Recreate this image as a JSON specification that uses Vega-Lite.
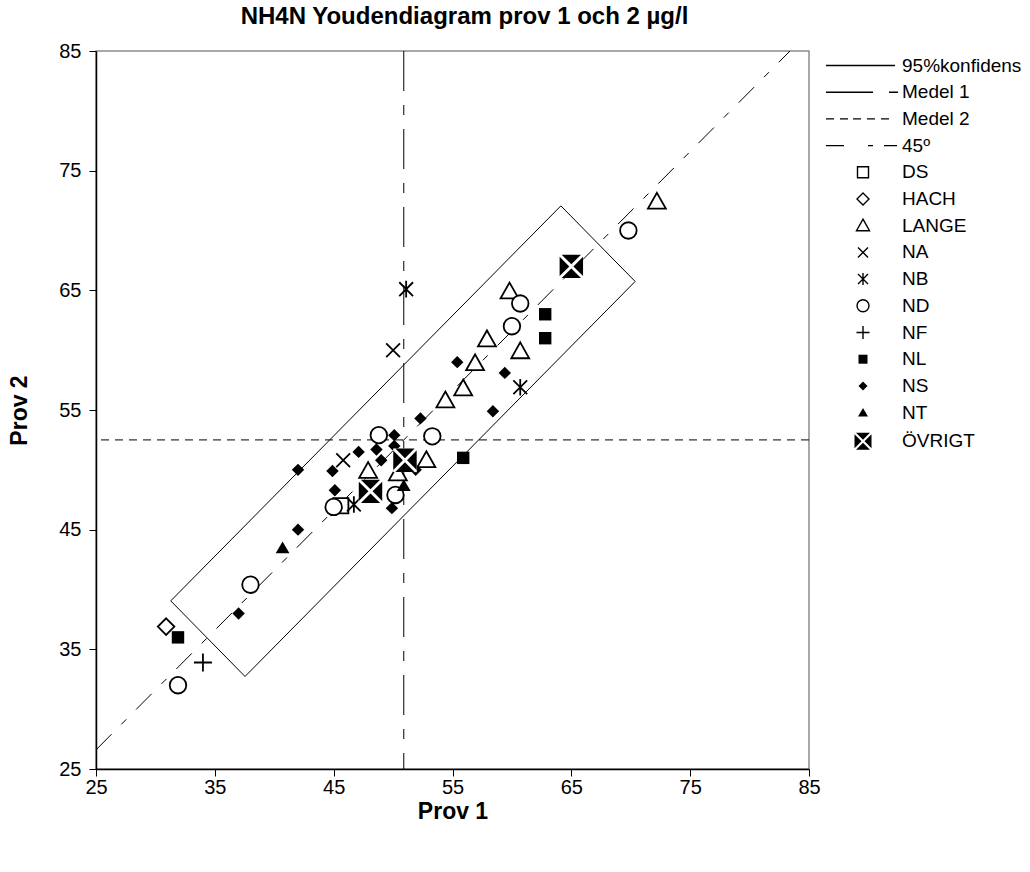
{
  "$schema": "https://vega.github.io/schema/vega-lite/v6.json",
  "width": 713,
  "height": 718,
  "autosize": "none",
  "padding": {"left": 96, "top": 51, "right": 221, "bottom": 103},
  "background": "white",
  "title": {"text": "NH4N Youdendiagram prov 1 och 2 µg/l", "font": "Liberation Sans", "fontSize": 24, "fontWeight": "bold", "color": "black", "anchor": "middle", "offset": 12, "dx": 12},
  "config": {
    "view": {"stroke": "#8c8c8c", "strokeWidth": 1.5},
    "axis": {"grid": false, "labelFlush": false, "domainColor": "black", "domainWidth": 1.5, "tickColor": "black", "tickSize": 7, "labelFont": "Liberation Sans", "labelFontSize": 20, "labelColor": "black", "titleFont": "Liberation Sans", "titleFontSize": 23, "titleFontWeight": "bold", "titleColor": "black"},
    "legend": {"orient": "none", "legendX": 757.5, "legendY": 5, "title": null, "padding": 0, "symbolSize": 4, "symbolStrokeWidth": 1.4, "labelFont": "Liberation Sans", "labelFontSize": 19, "labelColor": "black", "labelOffset": 29.5, "rowPadding": 6.7, "symbolOffset": 0, "labelLimit": 300}
  },
  "datasets": {
    "konfidens": [
      {"ordning": 1, "prov1": 31.29, "prov2": 39.05},
      {"ordning": 2, "prov1": 37.54, "prov2": 32.73},
      {"ordning": 3, "prov1": 70.37, "prov2": 65.74},
      {"ordning": 4, "prov1": 64.12, "prov2": 72.06},
      {"ordning": 5, "prov1": 31.29, "prov2": 39.05}
    ],
    "medel1": [{"prov1": 50.9}],
    "medel2": [{"prov2": 52.5}],
    "linje45": [
      {"prov1": 25, "prov2": 26.6},
      {"prov1": 83.4, "prov2": 85}
    ],
    "matvarden": [
      {"metod": "DS", "prov1": 45.6, "prov2": 47.0},
      {"metod": "HACH", "prov1": 30.9, "prov2": 36.9},
      {"metod": "LANGE", "prov1": 47.9, "prov2": 49.9},
      {"metod": "LANGE", "prov1": 52.8, "prov2": 50.8},
      {"metod": "LANGE", "prov1": 50.4, "prov2": 49.7},
      {"metod": "LANGE", "prov1": 57.9, "prov2": 60.9},
      {"metod": "LANGE", "prov1": 60.7, "prov2": 59.9},
      {"metod": "LANGE", "prov1": 56.9, "prov2": 58.9},
      {"metod": "LANGE", "prov1": 55.9, "prov2": 56.8},
      {"metod": "LANGE", "prov1": 54.4, "prov2": 55.8},
      {"metod": "LANGE", "prov1": 59.8, "prov2": 64.9},
      {"metod": "LANGE", "prov1": 72.2, "prov2": 72.4},
      {"metod": "NA", "prov1": 45.8, "prov2": 50.8},
      {"metod": "NA", "prov1": 50.0, "prov2": 60.0},
      {"metod": "NB", "prov1": 46.7, "prov2": 47.1},
      {"metod": "NB", "prov1": 60.7, "prov2": 56.9},
      {"metod": "NB", "prov1": 51.1, "prov2": 65.1},
      {"metod": "ND", "prov1": 31.9, "prov2": 32.0},
      {"metod": "ND", "prov1": 38.0, "prov2": 40.4},
      {"metod": "ND", "prov1": 45.0, "prov2": 46.9},
      {"metod": "ND", "prov1": 48.8, "prov2": 52.9},
      {"metod": "ND", "prov1": 53.3, "prov2": 52.8},
      {"metod": "ND", "prov1": 50.2, "prov2": 47.9},
      {"metod": "ND", "prov1": 60.0, "prov2": 62.0},
      {"metod": "ND", "prov1": 60.7, "prov2": 63.9},
      {"metod": "ND", "prov1": 69.8, "prov2": 70.0},
      {"metod": "NF", "prov1": 34.0, "prov2": 33.9},
      {"metod": "NL", "prov1": 31.9, "prov2": 36.0},
      {"metod": "NL", "prov1": 55.9, "prov2": 51.0},
      {"metod": "NL", "prov1": 62.8, "prov2": 61.0},
      {"metod": "NL", "prov1": 62.8, "prov2": 63.0},
      {"metod": "NS", "prov1": 37.0, "prov2": 38.0},
      {"metod": "NS", "prov1": 42.0, "prov2": 45.0},
      {"metod": "NS", "prov1": 42.0, "prov2": 50.0},
      {"metod": "NS", "prov1": 44.9, "prov2": 49.9},
      {"metod": "NS", "prov1": 45.1, "prov2": 48.3},
      {"metod": "NS", "prov1": 47.1, "prov2": 51.5},
      {"metod": "NS", "prov1": 48.6, "prov2": 51.7},
      {"metod": "NS", "prov1": 50.1, "prov2": 52.9},
      {"metod": "NS", "prov1": 50.1, "prov2": 52.0},
      {"metod": "NS", "prov1": 49.0, "prov2": 50.8},
      {"metod": "NS", "prov1": 51.9, "prov2": 50.0},
      {"metod": "NS", "prov1": 49.9, "prov2": 46.8},
      {"metod": "NS", "prov1": 52.3, "prov2": 54.3},
      {"metod": "NS", "prov1": 55.4, "prov2": 59.0},
      {"metod": "NS", "prov1": 59.4, "prov2": 58.1},
      {"metod": "NS", "prov1": 58.4, "prov2": 54.9},
      {"metod": "NT", "prov1": 40.7, "prov2": 43.5},
      {"metod": "NT", "prov1": 50.9, "prov2": 48.7},
      {"metod": "ÖVRIGT", "prov1": 51.0, "prov2": 50.8},
      {"metod": "ÖVRIGT", "prov1": 48.1, "prov2": 48.2},
      {"metod": "ÖVRIGT", "prov1": 65.0, "prov2": 67.0}
    ]
  },
  "layer": [
    {
      "data": {"name": "konfidens"},
      "mark": {"type": "line", "color": "black", "strokeWidth": 1},
      "encoding": {
        "x": {"field": "prov1", "type": "quantitative", "scale": {"domain": [25, 85], "nice": false, "zero": false}, "axis": {"title": "Prov 1", "values": [25, 35, 45, 55, 65, 75, 85], "labelPadding": 1, "titlePadding": 3}},
        "y": {"field": "prov2", "type": "quantitative", "scale": {"domain": [25, 85], "nice": false, "zero": false}, "axis": {"title": "Prov 2", "values": [25, 35, 45, 55, 65, 75, 85], "labelPadding": 8, "titlePadding": 27}},
        "order": {"field": "ordning", "type": "quantitative"}
      }
    },
    {
      "data": {"name": "medel1"},
      "mark": {"type": "rule", "color": "black", "strokeWidth": 1, "strokeDash": [40, 14, 10, 14]},
      "encoding": {
        "x": {"field": "prov1", "type": "quantitative"}
      }
    },
    {
      "data": {"name": "medel2"},
      "mark": {"type": "rule", "color": "black", "strokeWidth": 1, "strokeDash": [8, 6]},
      "encoding": {
        "y": {"field": "prov2", "type": "quantitative"}
      }
    },
    {
      "data": {"name": "linje45"},
      "mark": {"type": "line", "color": "black", "strokeWidth": 1, "strokeDash": [22, 14, 7, 14]},
      "encoding": {
        "x": {"field": "prov1", "type": "quantitative"},
        "y": {"field": "prov2", "type": "quantitative"}
      }
    },
    {
      "data": {"name": "matvarden"},
      "transform": [{"filter": "datum.metod !== 'ÖVRIGT'"}],
      "mark": {"type": "point", "size": 7.6, "strokeWidth": 1.8, "opacity": 1},
      "encoding": {
        "x": {"field": "prov1", "type": "quantitative"},
        "y": {"field": "prov2", "type": "quantitative"},
        "shape": {"field": "metod", "type": "nominal", "scale": {"domain": ["95%konfidens", "Medel 1", "Medel 2", "45º", "DS", "HACH", "LANGE", "NA", "NB", "ND", "NF", "NL", "NS", "NT", "ÖVRIGT"], "range": ["M-37,0H32", "M-37,0H10M26,0H35", "M-37,0H-29M-23,0H-15M-10,0H-2M4,0H12M18,0H26", "M-37,0H-19M5,0H10M21,0H34", "M-5.5,-5.5H5.5V5.5H-5.5Z", "M0,-6L6,0L0,6L-6,0Z", "M0,-6.5L6.5,5L-6.5,5Z", "M-5,-5L5,5M5,-5L-5,5", "M-5,-5L5,5M5,-5L-5,5M0,-6V6", "M6,0A6,6,0,1,1,-6,0A6,6,0,1,1,6,0Z", "M-6.5,0H6.5M0,-6.5V6.5", "M-4.5,-4.5H4.5V4.5H-4.5Z", "M0,-4.5L4.5,0L0,4.5L-4.5,0Z", "M0,-4.5L5,4L-5,4Z", "M-7,-8.5L7,-8.5L0,-1.5ZM-7,8.5L7,8.5L0,1.5ZM-8.5,-7L-8.5,7L-1.5,0ZM8.5,-7L8.5,7L1.5,0Z"]}},
        "fill": {"field": "metod", "type": "nominal", "scale": {"domain": ["95%konfidens", "Medel 1", "Medel 2", "45º", "DS", "HACH", "LANGE", "NA", "NB", "ND", "NF", "NL", "NS", "NT", "ÖVRIGT"], "range": ["transparent", "transparent", "transparent", "transparent", "white", "white", "white", "transparent", "transparent", "white", "transparent", "black", "black", "black", "black"]}},
        "stroke": {"field": "metod", "type": "nominal", "scale": {"domain": ["95%konfidens", "Medel 1", "Medel 2", "45º", "DS", "HACH", "LANGE", "NA", "NB", "ND", "NF", "NL", "NS", "NT", "ÖVRIGT"], "range": ["black", "black", "black", "black", "black", "black", "black", "black", "black", "black", "black", "transparent", "transparent", "transparent", "transparent"]}}
      }
    },
    {
      "data": {"name": "matvarden"},
      "transform": [{"filter": "datum.metod === 'ÖVRIGT'"}],
      "mark": {"type": "point", "shape": "square", "size": 560, "filled": true, "fill": "white", "stroke": null, "opacity": 1},
      "encoding": {
        "x": {"field": "prov1", "type": "quantitative"},
        "y": {"field": "prov2", "type": "quantitative"}
      }
    },
    {
      "data": {"name": "matvarden"},
      "transform": [{"filter": "datum.metod === 'ÖVRIGT'"}],
      "mark": {"type": "point", "size": 7.6, "strokeWidth": 1.8, "opacity": 1},
      "encoding": {
        "x": {"field": "prov1", "type": "quantitative"},
        "y": {"field": "prov2", "type": "quantitative"},
        "shape": {"field": "metod", "type": "nominal"},
        "fill": {"field": "metod", "type": "nominal"},
        "stroke": {"field": "metod", "type": "nominal"}
      }
    }
  ]
}
